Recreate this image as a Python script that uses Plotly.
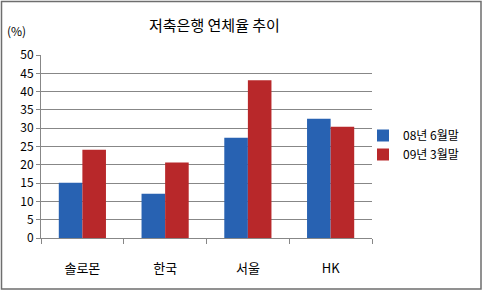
import plotly.graph_objects as go

categories = ["솔로몬", "한국", "서울", "HK"]
series_names = ["08년 6월말", "09년 3월말"]
values_0806 = [15.1, 12.1, 27.4, 32.6]
values_0903 = [24.1, 20.6, 43.1, 30.4]
colors = ["#2862B2", "#B8282A"]

FONT = "Noto Sans CJK KR, Malgun Gothic, sans-serif"

L, R, T, B = 41, 111, 55, 53
PW, PH = 483 - L - R, 291 - T - B

fig = go.Figure()
for name, vals, col in zip(series_names, [values_0806, values_0903], colors):
    fig.add_trace(go.Bar(x=categories, y=vals, name=name, marker_color=col,
                         marker_line_width=0))

fig.update_layout(
    width=483, height=291,
    margin=dict(l=L, r=R, t=T, b=B, autoexpand=False),
    paper_bgcolor="white", plot_bgcolor="white",
    barmode="group", bargap=0.43, bargroupgap=0,
    font=dict(family=FONT, size=12, color="#000000"),
    showlegend=True,
    legend=dict(xref="container", yref="container", x=363 / 483, y=(291 - 145) / 291,
                xanchor="left", yanchor="middle",
                font=dict(size=12, family=FONT), bgcolor="rgba(0,0,0,0)",
                itemwidth=30, tracegroupgap=4),
    annotations=[
        dict(text="저축은행 연체율 추이", xref="paper", yref="paper",
             x=(214 - L) / PW, y=1.0, yshift=31, xanchor="center", yanchor="middle",
             showarrow=False, font=dict(size=15, family=FONT)),
        dict(text="(%)", xref="paper", yref="paper", x=(16 - L) / PW, y=1.0, yshift=25,
             xanchor="center", yanchor="middle", showarrow=False,
             font=dict(size=12, family=FONT)),
    ],
    shapes=[dict(type="rect", xref="paper", yref="paper",
                 x0=(1.5 - L) / PW, x1=(481 - L) / PW,
                 y0=-(289 - T - PH) / PH, y1=1 + (T - 1.5) / PH,
                 line=dict(color="#6E6E6E", width=1.5))],
)

fig.update_yaxes(range=[0, 50], dtick=5, showgrid=True, gridcolor="#878787",
                 gridwidth=1, showline=True, linecolor="#878787", linewidth=1,
                 ticks="outside", ticklen=4, tickcolor="#878787",
                 tickfont=dict(size=12, family=FONT), zeroline=False)
fig.update_xaxes(showline=True, linecolor="#878787", linewidth=1,
                 ticks="outside", tickson="boundaries", ticklen=5,
                 tickcolor="#878787", tickfont=dict(size=13, family=FONT),
                 ticklabelstandoff=18)

fig.write_html("out.html")
